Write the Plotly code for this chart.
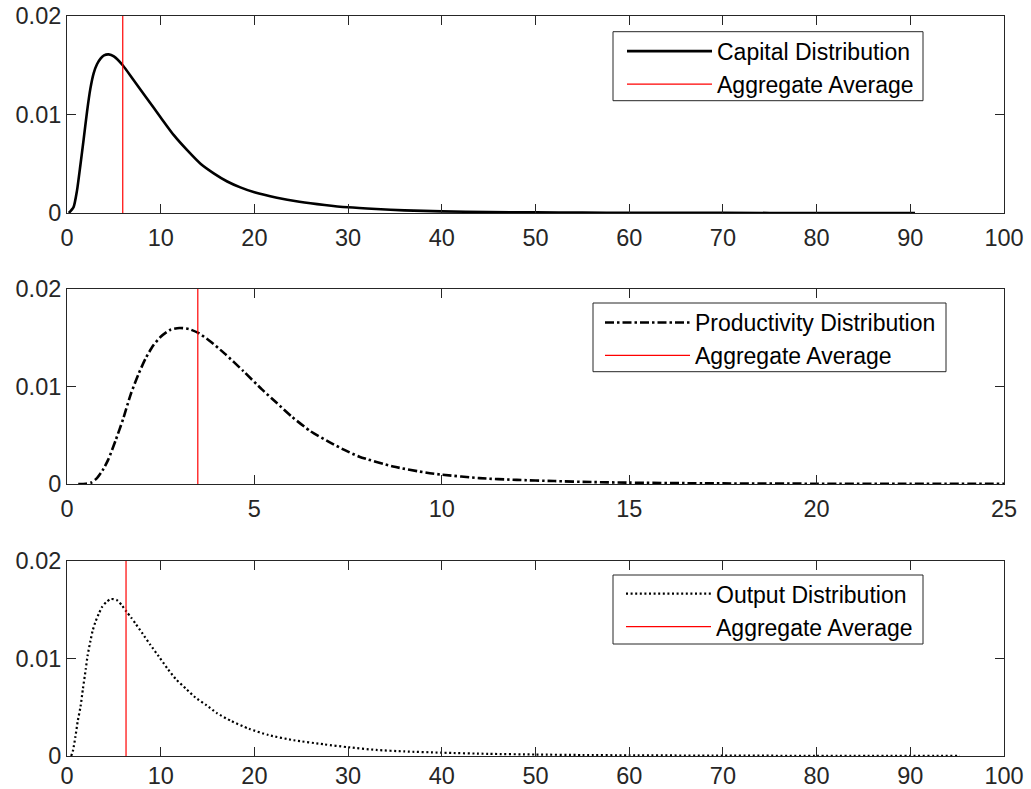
import plotly.graph_objects as go

# ---------------- data ----------------
cap_x = [0.2, 0.7, 1.07, 1.42, 1.78, 2.14, 2.49, 2.85, 3.2, 3.6, 3.95, 4.45, 5.0, 5.95,
         7.1, 8.55, 10.0, 11.4, 12.8, 14.25, 15.7, 17.1, 18.5, 20.0, 22.4, 24.8, 27.5,
         30.0, 33.0, 36.0, 40.0, 45.0, 50.0, 55.0, 60.0, 70.0, 80.0, 90.5]
cap_y = [0.0, 0.0006, 0.0023, 0.0048, 0.0075, 0.0103, 0.0126, 0.0142, 0.0151, 0.0157,
         0.0160, 0.0161, 0.0159, 0.0150, 0.0135, 0.0116, 0.0097, 0.0079, 0.0064, 0.0050,
         0.0040, 0.0032, 0.0026, 0.0021, 0.00155, 0.00115, 0.00082, 0.00058, 0.00040,
         0.00027, 0.00017, 0.00010, 0.00006, 0.00004, 0.000025, 0.00001, 0.000005,
         0.000002]
cap_avg = 5.95

prod_x = [0.3, 0.5, 0.65, 0.8, 0.95, 1.1, 1.3, 1.5, 1.7, 1.9, 2.1, 2.3, 2.5, 2.75, 3.0,
          3.25, 3.5, 3.8, 4.2, 4.7, 5.2, 5.6, 6.0, 6.5, 7.0, 7.4, 7.8, 8.7, 9.6, 10.0,
          11.0, 12.0, 13.0, 14.0, 15.0, 17.0, 20.0, 22.5, 25.0]
prod_y = [0.0, 0.00003, 0.00015, 0.0006, 0.0014, 0.0025, 0.0045, 0.0067, 0.0092, 0.0112,
          0.0129, 0.0142, 0.0151, 0.0158, 0.0160, 0.0159, 0.0155, 0.0147, 0.0134, 0.0116,
          0.0097, 0.0083, 0.0069, 0.0054, 0.0043, 0.0035, 0.0028, 0.0018, 0.00115,
          0.00096, 0.0006, 0.00042, 0.0003, 0.0002, 0.00014, 0.00007, 0.00003,
          0.000015, 0.00001]
prod_avg = 3.49

out_x = [0.45, 0.65, 0.9, 1.15, 1.45, 1.7, 2.0, 2.2, 2.5, 2.75, 3.05, 3.4, 3.75, 4.2,
         4.7, 5.3, 5.9, 6.35, 6.85, 7.3, 8.1, 8.9, 9.8, 10.7, 11.6, 12.7, 13.7, 14.9,
         16.0, 17.5, 19.4, 21.5, 24.2, 27.4, 30.0, 33.0, 36.0, 40.0, 45.0, 50.0, 55.0,
         60.0, 70.0, 80.0, 95.3]
out_y = [0.0, 0.0006, 0.0020, 0.0036, 0.0051, 0.0069, 0.0089, 0.0103, 0.0118, 0.0129,
         0.0138, 0.0146, 0.0153, 0.0158, 0.0161, 0.0160, 0.0154, 0.0148, 0.0142, 0.0136,
         0.0125, 0.0114, 0.0102, 0.0090, 0.0079, 0.0069, 0.0060, 0.0052, 0.0044, 0.0036,
         0.0028, 0.00215, 0.00162, 0.0012, 0.0009, 0.00062, 0.00047, 0.00034, 0.00022,
         0.00015, 0.0001, 0.00007, 0.00004, 0.00002, 0.00001]
out_avg = 6.3

y_ticks = [0, 0.01, 0.02]
y_ticktext = ["0", "0.01", "0.02"]
x_ticks_wide = list(range(0, 101, 10))
x_ticks_prod = [0, 5, 10, 15, 20, 25]

# ---------------- figure ----------------
AX = "#262626"
FONT = "Liberation Sans, Arial, Helvetica, sans-serif"

fig = go.Figure()

fig.add_trace(go.Scatter(x=cap_x, y=cap_y, mode="lines", name="Capital Distribution",
                         line=dict(color="black", width=2.6, shape="spline", smoothing=0.6),
                         xaxis="x", yaxis="y", legend="legend"))
fig.add_trace(go.Scatter(x=[cap_avg, cap_avg], y=[0, 0.02], mode="lines", name="Aggregate Average",
                         line=dict(color="red", width=1.2), xaxis="x", yaxis="y", legend="legend"))

fig.add_trace(go.Scatter(x=prod_x, y=prod_y, mode="lines", name="Productivity Distribution",
                         line=dict(color="black", width=2.6, dash="9px,3px,2.5px,3px",
                                   shape="spline", smoothing=0.6),
                         xaxis="x2", yaxis="y2", legend="legend2"))
fig.add_trace(go.Scatter(x=[prod_avg, prod_avg], y=[0, 0.02], mode="lines", name="Aggregate Average",
                         line=dict(color="red", width=1.2), xaxis="x2", yaxis="y2", legend="legend2"))

fig.add_trace(go.Scatter(x=out_x, y=out_y, mode="lines", name="Output Distribution",
                         line=dict(color="black", width=2.2, dash="2px,2.6px",
                                   shape="spline", smoothing=0.6),
                         xaxis="x3", yaxis="y3", legend="legend3"))
fig.add_trace(go.Scatter(x=[out_avg, out_avg], y=[0, 0.02], mode="lines", name="Aggregate Average",
                         line=dict(color="red", width=1.2), xaxis="x3", yaxis="y3", legend="legend3"))

axis_common = dict(showline=True, mirror="ticks", linecolor=AX, linewidth=1,
                   ticks="inside", ticklen=9, tickwidth=1, tickcolor=AX,
                   showgrid=False, zeroline=False, automargin=False,
                   tickfont=dict(family=FONT, size=23.5, color=AX))

# plot area: x 67..1004, y 16..756
W, H, L, T = 937.0, 740.0, 67.0, 16.0
def px_x(p):
    return (p - L) / W
def px_y(p):
    return 1 - (p - T) / H
def dom(top_px, bot_px):
    return [px_y(bot_px), px_y(top_px)]

legend_common = dict(bgcolor="rgba(0,0,0,0)", borderwidth=0,
                     font=dict(family=FONT, size=23, color="black"),
                     xanchor="left", yanchor="top", itemwidth=85,
                     tracegroupgap=0)

# legend frames (left, top, right, bottom) in pixels
frames = [(613, 31.7, 923, 100.7), (593, 303, 946, 371.7), (613, 575, 923, 644)]
shapes = [dict(type="rect", xref="paper", yref="paper",
               x0=px_x(a), x1=px_x(c), y0=px_y(d), y1=px_y(b),
               line=dict(color=AX, width=1), fillcolor="white", layer="above")
          for a, b, c, d in frames]

fig.update_layout(
    width=1031, height=789,
    margin=dict(l=67, r=27, t=16, b=33, autoexpand=False),
    paper_bgcolor="white", plot_bgcolor="white",
    showlegend=True,
    shapes=shapes,
    xaxis=dict(axis_common, range=[0, 100], tickvals=x_ticks_wide, anchor="y", domain=[0, 1],
               ticklabelstandoff=4),
    yaxis=dict(axis_common, range=[0, 0.02], tickvals=y_ticks, ticktext=y_ticktext,
               anchor="x", domain=dom(16, 213)),
    xaxis2=dict(axis_common, range=[0, 25], tickvals=x_ticks_prod, anchor="y2", domain=[0, 1],
                ticklabelstandoff=4),
    yaxis2=dict(axis_common, range=[0, 0.02], tickvals=y_ticks, ticktext=y_ticktext,
                anchor="x2", domain=dom(289, 484)),
    xaxis3=dict(axis_common, range=[0, 100], tickvals=x_ticks_wide, anchor="y3", domain=[0, 1],
                ticklabelstandoff=-1),
    yaxis3=dict(axis_common, range=[0, 0.02], tickvals=y_ticks, ticktext=y_ticktext,
                anchor="x3", domain=dom(561, 756)),
    legend=dict(legend_common, x=px_x(622), y=px_y(29.7)),
    legend2=dict(legend_common, x=px_x(600), y=px_y(301)),
    legend3=dict(legend_common, x=px_x(621), y=px_y(572.2)),
)

fig.write_html("out.html")
